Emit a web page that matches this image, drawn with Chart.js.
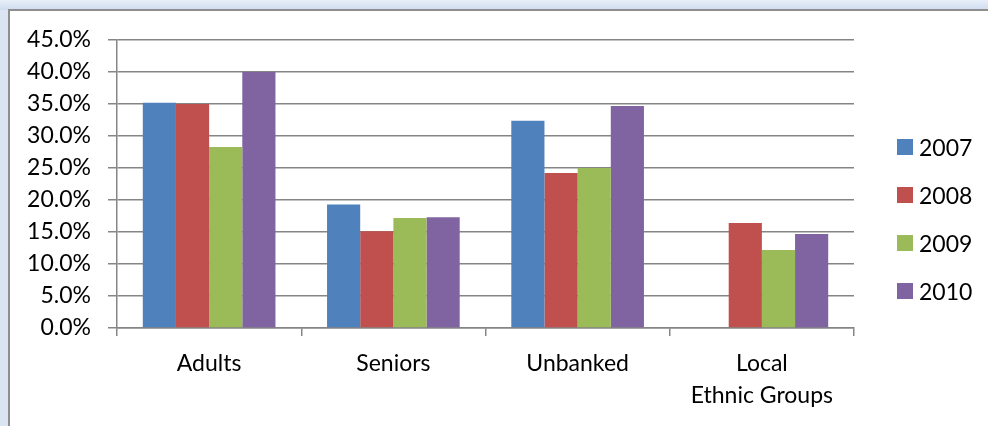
<!DOCTYPE html>
<html>
<head>
<meta charset="utf-8">
<script src="https://cdn.jsdelivr.net/npm/chart.js@4.4.1/dist/chart.umd.min.js"></script>
<style>
  html, body { margin: 0; padding: 0; }
  body {
    width: 988px; height: 426px; overflow: hidden; position: relative;
    background: linear-gradient(#e8eff9, #cedcf0 10px, #dae4f2 10px);
    font-family: Lato, "Open Sans", sans-serif;
  }
  #panel {
    position: absolute; left: 8px; top: 9px; width: 1000px; height: 440px;
    background: #fff; border-top: 2px solid #8e8e8e; border-left: 2px solid #8e8e8e;
  }
  #chart { position: absolute; left: 0; top: 0; }
  #legend {
    position: absolute; left: 897px; top: 123px; margin: 0; padding: 0; list-style: none;
  }
  #legend li { height: 48px; display: flex; align-items: center; font-size: 23px; color: #000; }
  #legend span { display: inline-block; width: 16px; height: 16px; margin-right: 6px; }
</style>
</head>
<body>
<div id="panel"></div>
<canvas id="chart" width="988" height="426"></canvas>
<ul id="legend"></ul>
<script>
// categories, years and the share for each year (percent)
const categories = ['Adults', 'Seniors', 'Unbanked', ['Local', 'Ethnic Groups']];
const years = ['2007', '2008', '2009', '2010'];
const values2007 = [35.2, 19.3, 32.4, null];
const values2008 = [35.0, 15.1, 24.2, 16.4];
const values2009 = [28.3, 17.2, 25.0, 12.2];
const values2010 = [40.0, 17.3, 34.7, 14.7];
const colors = ['#4F81BD', '#C0504D', '#9BBB59', '#8064A2'];

const gridColor = '#858585';
const font = { family: 'Lato', size: 23 };

const series = [values2007, values2008, values2009, values2010];

const chart = new Chart(document.getElementById('chart'), {
    type: 'bar',
    data: {
        labels: categories,
        datasets: series.map((vals, i) => ({
            label: years[i],
            data: vals,
            backgroundColor: colors[i],
            borderWidth: 0,
            categoryPercentage: 0.72,
            barPercentage: 1
        }))
    },
    options: {
        responsive: false,
        animation: false,
        layout: { padding: { top: 40, right: 134, bottom: 0, left: 0 } },
        plugins: {
            legend: { display: false },
            tooltip: { enabled: false }
        },
        scales: {
            x: {
                grid: { drawOnChartArea: false, drawTicks: true, tickLength: 8, color: gridColor, lineWidth: 1.5 },
                border: { color: gridColor, width: 1.5 },
                ticks: { color: '#000', font: { family: 'Lato', size: 23, lineHeight: 1.42 }, padding: 11, maxRotation: 0 },
                afterFit: (scale) => { scale.height = 98; }
            },
            y: {
                min: 0,
                max: 45,
                ticks: {
                    stepSize: 5,
                    color: '#000',
                    font: font,
                    padding: 17,
                    callback: (v) => v.toFixed(1) + '%'
                },
                grid: { color: gridColor, lineWidth: 1.5, tickLength: 9 },
                border: { color: gridColor, width: 1.5 },
                afterFit: (scale) => { scale.width = 117; }
            }
        }
    }
});

// legend as plain html, taken from the chart's datasets
const legendList = document.getElementById('legend');
chart.data.datasets.forEach((ds) => {
    const li = document.createElement('li');
    const box = document.createElement('span');
    box.style.background = ds.backgroundColor;
    li.appendChild(box);
    li.appendChild(document.createTextNode(ds.label));
    legendList.appendChild(li);
});
</script>
</body>
</html>
